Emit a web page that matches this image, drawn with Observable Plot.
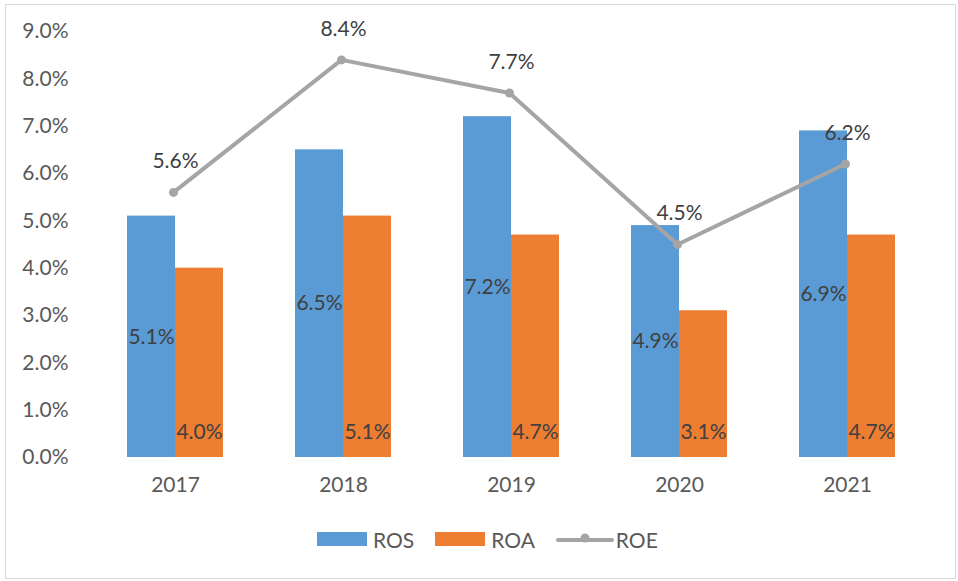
<!DOCTYPE html>
<html>
<head>
<meta charset="utf-8">
<script src="https://cdn.jsdelivr.net/npm/d3@7"></script>
<script src="https://cdn.jsdelivr.net/npm/@observablehq/plot@0.6"></script>
<style>
  body { margin: 0; background: #fff; }
  #wrap { position: relative; width: 958px; height: 581px; font-family: Lato, "Open Sans", sans-serif; }
  #frame { position: absolute; left: 5px; top: 4px; width: 951px; height: 575px; border: 1px solid #d9d9d9; box-sizing: border-box; }
  #chart { position: absolute; left: 0; top: 0; }
  #legend { position: absolute; top: 527px; left: 317px; display: flex; gap: 21px; font-size: 21px; color: #595959; }
  .item { display: flex; align-items: center; gap: 6px; height: 24px; }
  .sw { width: 50px; height: 14px; }
</style>
</head>
<body>
<div id="wrap">
  <div id="frame"></div>
  <div id="chart"></div>
  <div id="legend"></div>
</div>
<script>
const years = ["2017", "2018", "2019", "2020", "2021"];
const ros = [5.1, 6.5, 7.2, 4.9, 6.9];
const roa = [4.0, 5.1, 4.7, 3.1, 4.7];
const roe = [5.6, 8.4, 7.7, 4.5, 6.2];
const yTicks = [0, 1, 2, 3, 4, 5, 6, 7, 8, 9];
const colors = { ROS: "#5b9bd5", ROA: "#ed7d31", ROE: "#a5a5a5" };

const data = years.map((y, i) => ({ year: y, ROS: ros[i], ROA: roa[i], ROE: roe[i] }));
const fmt = v => v.toFixed(1) + "%";
const labelColor = "#404040";
const fs = 21;

const chart = Plot.plot({
  width: 958,
  height: 500,
  marginTop: 31,
  marginBottom: 43,
  marginLeft: 91,
  marginRight: 27,
  style: { fontFamily: "Lato, 'Open Sans', sans-serif", fontSize: fs + "px", color: "#595959", background: "transparent" },
  x: { domain: years, paddingInner: 0.7143, paddingOuter: 0.357, label: null, tickSize: 0, tickPadding: 20 },
  y: { domain: [0, 9], ticks: yTicks, tickFormat: fmt, label: null, tickSize: 0, tickPadding: 23 },
  marks: [
    Plot.barY(data, { x: "year", y: "ROS", fill: colors.ROS, dx: -24 }),
    Plot.barY(data, { x: "year", y: "ROA", fill: colors.ROA, dx: 24 }),
    Plot.line(data, { x: "year", y: "ROE", stroke: colors.ROE, strokeWidth: 4, dx: -2 }),
    Plot.dot(data, { x: "year", y: "ROE", fill: colors.ROE, r: 4.5, dx: -2 }),
    Plot.text(data, { x: "year", y: d => d.ROS / 2, text: d => fmt(d.ROS), dx: -24, fill: labelColor, fontSize: fs }),
    Plot.text(data, { x: "year", y: 0, text: d => fmt(d.ROA), dx: 24, dy: -25, fill: labelColor, fontSize: fs }),
    Plot.text(data, { x: "year", y: "ROE", text: d => fmt(d.ROE), dy: -31, fill: labelColor, fontSize: fs })
  ]
});
document.getElementById("chart").appendChild(chart);

const legend = document.getElementById("legend");
[["ROS", "bar"], ["ROA", "bar"], ["ROE", "line"]].forEach(([name, kind]) => {
  const item = document.createElement("div");
  item.className = "item";
  if (kind === "bar") {
    item.innerHTML = `<div class="sw" style="background:${colors[name]}"></div><span>${name}</span>`;
  } else {
    item.style.gap = "2px";
    item.innerHTML = `<svg width="58" height="16"><line x1="2" y1="9" x2="56" y2="9" stroke="${colors[name]}" stroke-width="4" stroke-linecap="round"/><circle cx="29" cy="7" r="4.5" fill="${colors[name]}"/></svg><span>${name}</span>`;
  }
  legend.appendChild(item);
});
</script>
</body>
</html>
